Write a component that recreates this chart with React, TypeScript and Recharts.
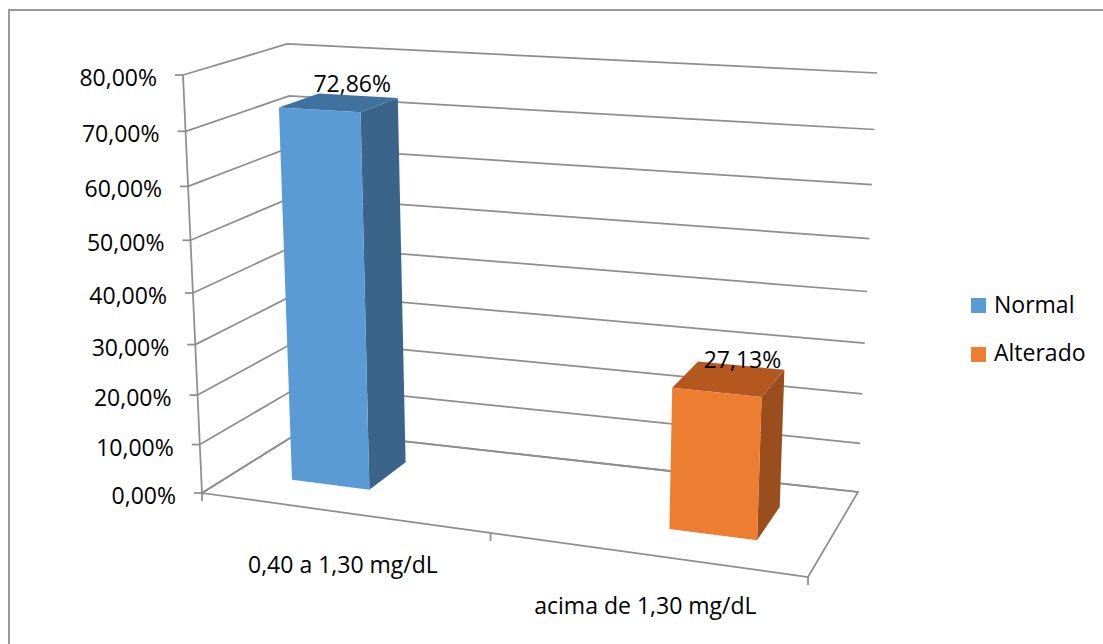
import React from "react";
import { BarChart, Bar, XAxis, YAxis, CartesianGrid } from "recharts";

const categories = ["0,40 a 1,30 mg/dL", "acima de 1,30 mg/dL"];
const values = [0.7286, 0.2713];
const seriesNames = ["Normal", "Alterado"];
const yTicks = [0, 0.1, 0.2, 0.3, 0.4, 0.5, 0.6, 0.7, 0.8];

const data = categories.map((name, i) => ({ name, value: values[i] }));

const W = 1103;
const H = 644;
// flat plot rect recharts lays out; everything is projected from it
const PL = 200;
const PT = 75;
const PW = 600;
const PH = 418;
const PB = PT + PH;

// screen corners of the 3-D box: floor and ceiling
const FLOOR = { fl: [202, 493], fr: [808, 577], bl: [303, 430], br: [858, 492] };
const CEIL = { fl: [183, 75], fr: [826, 107], bl: [287, 44], br: [877, 73] };

const DEPTH = [0.36, 0.76];
const SPREAD = 1.3;

const FACE = ["#5B9BD5", "#ED7D31"];
const TOP = ["#41729F", "#B4581F"];
const SIDE = ["#3A6489", "#9A4E1E"];
const GRID = "#8e8e8e";
const FONT = '"Open Sans", sans-serif';
const FS = 23;

const pct = (v: number) => (v * 100).toFixed(2).replace(".", ",") + "%";

const persp = (t: number, k: number) => t / (t + k * (1 - t));

function bilerp(c: any, u: number, w: number) {
  const a = (1 - u) * (1 - w), b = (1 - u) * w, d = u * w, e = u * (1 - w);
  return [
    a * c.fl[0] + b * c.bl[0] + d * c.br[0] + e * c.fr[0],
    a * c.fl[1] + b * c.bl[1] + d * c.br[1] + e * c.fr[1],
  ];
}

function project(u: number, w: number, v: number) {
  const gu = persp(u, 1.1);
  const gw = persp(w, 1.15);
  const gv = persp(v, 1.09);
  const b = bilerp(FLOOR, gu, gw);
  const t = bilerp(CEIL, gu, gw);
  return [b[0] + gv * (t[0] - b[0]), b[1] + gv * (t[1] - b[1])];
}

const pts = (list: number[][]) => list.map((p) => `${p[0].toFixed(1)},${p[1].toFixed(1)}`).join(" ");

function Frame() {
  const o = project(0, 0, 0);
  const top = project(0, 0, 1);
  const fr = project(1, 0, 0);
  const br = project(1, 1, 0);
  const bl = project(0, 1, 0);
  const marks = [];
  for (let i = 0; i <= categories.length; i++) {
    const p = project(i / categories.length, 0, 0);
    marks.push(<line key={i} x1={p[0]} y1={p[1]} x2={p[0]} y2={p[1] + 8} stroke={GRID} strokeWidth={1.75} />);
  }
  return (
    <g>
      <line x1={o[0]} y1={o[1]} x2={top[0]} y2={top[1]} stroke={GRID} strokeWidth={1.75} />
      <polyline points={pts([bl, o, fr, br, bl])} fill="none" stroke={GRID} strokeWidth={1.75} />
      {marks}
    </g>
  );
}

function WallLine(props: any) {
  const { y1, index } = props;
  const v = (PB - y1) / PH;
  const fl = project(0, 0, v);
  const bl = project(0, 1, v);
  const br = project(1, 1, v);
  return (
    <g>
      <line x1={fl[0] - 8} y1={fl[1]} x2={fl[0]} y2={fl[1]} stroke={GRID} strokeWidth={1.75} />
      <polyline points={pts([fl, bl, br])} fill="none" stroke={GRID} strokeWidth={1.75} />
      {index === 0 && <Frame />}
    </g>
  );
}

function YTick(props: any) {
  const { y, payload } = props;
  const v = (PB - y) / PH;
  const p = project(0, 0, v);
  return (
    <text x={p[0] - 26} y={p[1] + 11} textAnchor="end" fontFamily={FONT} fontSize={FS} fill="#000">
      {pct(payload.value)}
    </text>
  );
}

function XTick(props: any) {
  const { x, payload } = props;
  const u = (x - PL) / PW;
  const p = project(u, 0, 0);
  return (
    <text x={p[0]} y={p[1] + 60} textAnchor="middle" fontFamily={FONT} fontSize={FS} fill="#000">
      {payload.value}
    </text>
  );
}

function Bar3D(props: any) {
  const { x, y, width, index, payload } = props;
  const a = (x - PL) / PW;
  const b = (x + width - PL) / PW;
  const half = (b - a) / 2;
  const uc = 0.5 + ((a + b) / 2 - 0.5) * SPREAD;
  const u0 = uc - half;
  const u1 = uc + half;
  const v = (PB - y) / PH;
  const [w0, w1] = DEPTH;
  const front = [project(u0, w0, 0), project(u1, w0, 0), project(u1, w0, v), project(u0, w0, v)];
  const top = [project(u0, w0, v), project(u1, w0, v), project(u1, w1, v), project(u0, w1, v)];
  const side = [project(u1, w0, 0), project(u1, w1, 0), project(u1, w1, v), project(u1, w0, v)];
  const lab = project(uc, (w0 + w1) / 2, v);
  return (
    <g>
      <polygon points={pts(side)} fill={SIDE[index]} />
      <polygon points={pts(top)} fill={TOP[index]} />
      <polygon points={pts(front)} fill={FACE[index]} />
      <text x={lab[0] + 14} y={lab[1] - 11} textAnchor="middle" fontFamily={FONT} fontSize={FS} fill="#000">
        {pct(payload.value)}
      </text>
    </g>
  );
}

export default function App() {
  return (
    <div style={{ position: "absolute", left: 0, top: 0, width: W, height: H, overflow: "hidden", background: "#fff" }}>
      <div
        style={{
          position: "absolute",
          left: 8,
          top: 9,
          width: 1200,
          height: 800,
          borderLeft: "2px solid #999",
          borderTop: "2px solid #999",
        }}
      />
      <BarChart
        width={W}
        height={H}
        data={data}
        margin={{ top: PT, right: W - PL - PW, bottom: H - PB - 30, left: 0 }}
        barCategoryGap="36%"
      >
        <CartesianGrid vertical={false} horizontal={(p: any) => <WallLine key={p.key} {...p} />} />
        <XAxis dataKey="name" height={30} axisLine={false} tickLine={false} interval={0} tick={(p: any) => <XTick {...p} />} />
        <YAxis
          type="number"
          domain={[0, 0.8]}
          ticks={yTicks}
          width={PL}
          axisLine={false}
          tickLine={false}
          tick={(p: any) => <YTick {...p} />}
        />
        <Bar dataKey="value" isAnimationActive={false} shape={(p: any) => <Bar3D {...p} />} />
      </BarChart>
      <svg style={{ position: "absolute", left: 0, top: 0 }} width={W} height={H} pointerEvents="none">
        {seriesNames.map((name, i) => (
          <g key={name}>
            <rect x={971} y={298 + i * 49} width={15} height={15} fill={FACE[i]} />
            <text x={994} y={313 + i * 48} fontFamily={FONT} fontSize={FS} fill="#000">
              {name}
            </text>
          </g>
        ))}
      </svg>
    </div>
  );
}
